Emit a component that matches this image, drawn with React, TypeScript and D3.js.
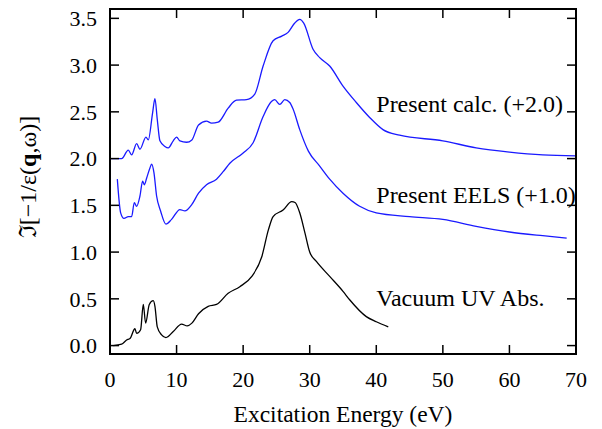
import * as d3 from 'd3';

// energies (eV) and loss function values
const vuvEnergy = [0.5, 1.75, 2.5, 3.0, 3.75, 4.0, 4.6, 5.0, 5.35, 5.9, 6.5, 6.75, 7.1, 7.75, 8.4, 9.5, 10.75, 11.6, 12.3, 13.3, 14.75, 16.0, 17.75, 19.5, 21.3, 22.8, 23.8, 24.5, 26.0, 27.3, 27.8, 28.5, 29.3, 30.0, 31.0, 33.0, 35.0, 36.0, 38.5, 40.0, 41.8];
const vuvValue = [0.0, 0.015, 0.06, 0.075, 0.18, 0.13, 0.17, 0.44, 0.24, 0.44, 0.48, 0.42, 0.2, 0.115, 0.086, 0.15, 0.23, 0.21, 0.24, 0.34, 0.42, 0.44, 0.56, 0.63, 0.74, 0.95, 1.24, 1.38, 1.45, 1.54, 1.53, 1.42, 1.2, 1.0, 0.9, 0.74, 0.58, 0.49, 0.31, 0.255, 0.2];

const eelsEnergy = [1.1, 1.6, 2.1, 2.75, 3.25, 3.65, 4.0, 4.5, 4.9, 5.15, 5.5, 6.0, 6.25, 6.6, 7.0, 7.6, 8.4, 9.25, 10.5, 11.25, 12.3, 13.3, 14.5, 16, 17, 18, 20, 21.5, 23, 24.25, 24.75, 25.5, 26.25, 27, 27.5, 28.5, 29.8, 31.5, 33, 35, 37.5, 40, 45, 50, 55, 60, 65, 68.6];
const eelsValue = [0.78, 0.42, 0.36, 0.38, 0.38, 0.53, 0.49, 0.6, 0.76, 0.72, 0.79, 0.9, 0.94, 0.85, 0.6, 0.44, 0.3, 0.35, 0.455, 0.44, 0.51, 0.63, 0.72, 0.78, 0.86, 0.95, 1.06, 1.17, 1.45, 1.61, 1.63, 1.58, 1.63, 1.6, 1.53, 1.31, 1.08, 0.92, 0.78, 0.63, 0.49, 0.42, 0.38, 0.35, 0.275, 0.215, 0.175, 0.15];
const eelsOffset = 1.0;

const calcEnergy = [0, 1.75, 2.75, 3.25, 4.0, 4.5, 5.4, 5.75, 6.4, 6.75, 7.1, 7.5, 8.25, 8.75, 9.5, 10.0, 10.5, 11.5, 12.3, 13.3, 14.5, 15.25, 16.25, 17.75, 19, 20.5, 21.75, 23, 24.5, 25.8, 26.75, 27.75, 28.5, 29.1, 30.5, 31.5, 33, 35, 37, 39, 41, 43.5, 50, 55, 60, 65, 70];
const calcValue = [0, 0, 0.09, 0.04, 0.16, 0.1, 0.23, 0.2, 0.49, 0.64, 0.42, 0.19, 0.13, 0.115, 0.19, 0.23, 0.19, 0.175, 0.2, 0.36, 0.4, 0.38, 0.39, 0.54, 0.625, 0.63, 0.69, 0.99, 1.26, 1.31, 1.35, 1.45, 1.49, 1.45, 1.17, 1.08, 0.99, 0.775, 0.6, 0.44, 0.31, 0.25, 0.19, 0.115, 0.07, 0.04, 0.03];
const calcOffset = 2.0;

const xTicks = [0, 10, 20, 30, 40, 50, 60, 70];
const yTicks = [0, 0.5, 1.0, 1.5, 2.0, 2.5, 3.0, 3.5];

const labels = [
  { text: 'Present calc. (+2.0)', x: 40, y: 2.5 },
  { text: 'Present EELS (+1.0)', x: 40, y: 1.52 },
  { text: 'Vacuum UV Abs.', x: 40, y: 0.42 },
];

const width = 602;
const height = 429;
const margin = { top: 9, right: 26, bottom: 75, left: 110 };
const font = "'Liberation Serif', serif";

const App = () => {
  const x = d3.scaleLinear([0, 70], [margin.left, width - margin.right]);
  const y = d3.scaleLinear([-0.09, 3.6], [height - margin.bottom, margin.top]);

  const line = d3
    .line<[number, number]>()
    .x((d) => x(d[0]))
    .y((d) => y(d[1]))
    .curve(d3.curveMonotoneX);

  const series = [
    { pts: vuvEnergy.map((e, i) => [e, vuvValue[i]] as [number, number]), color: '#000' },
    { pts: eelsEnergy.map((e, i) => [e, eelsValue[i] + eelsOffset] as [number, number]), color: '#1a1aff' },
    { pts: calcEnergy.map((e, i) => [e, calcValue[i] + calcOffset] as [number, number]), color: '#1a1aff' },
  ];

  const [x0, x1] = x.range();
  const [y0, y1] = y.range();
  const tick = 9;

  return (
    <svg width={width} height={height} style={{ position: 'absolute', left: 0, top: 0, background: '#fff', fontFamily: font }}>
      {series.map((s, i) => (
        <path key={i} d={line(s.pts) ?? ''} fill="none" stroke={s.color} strokeWidth={1.3} />
      ))}

      {/* ticks on all four sides, pointing inward */}
      {xTicks.map((t) => (
        <g key={'x' + t}>
          <line x1={x(t)} x2={x(t)} y1={y0} y2={y0 - tick} stroke="#000" strokeWidth={1.5} />
          <line x1={x(t)} x2={x(t)} y1={y1} y2={y1 + tick} stroke="#000" strokeWidth={1.5} />
          <text x={x(t)} y={y0 + 33} textAnchor="middle" fontSize={22}>
            {t}
          </text>
        </g>
      ))}
      {yTicks.map((t) => (
        <g key={'y' + t}>
          <line x1={x0} x2={x0 + tick} y1={y(t)} y2={y(t)} stroke="#000" strokeWidth={1.5} />
          <line x1={x1} x2={x1 - tick} y1={y(t)} y2={y(t)} stroke="#000" strokeWidth={1.5} />
          <text x={x0 - 13} y={y(t)} dy="0.35em" textAnchor="end" fontSize={22}>
            {t.toFixed(1)}
          </text>
        </g>
      ))}

      <rect x={x0} y={y1} width={x1 - x0} height={y0 - y1} fill="none" stroke="#000" strokeWidth={2} />

      {labels.map((l) => (
        <text key={l.text} x={x(l.x)} y={y(l.y)} fontSize={24}>
          {l.text}
        </text>
      ))}

      <text x={(x0 + x1) / 2} y={422} textAnchor="middle" fontSize={23.5}>
        Excitation Energy (eV)
      </text>
      <text transform="translate(28,177) rotate(-90)" textAnchor="middle" dy="0.35em" fontSize={24}>
        ℑ[−1/ε(<tspan fontWeight="bold">q</tspan>,ω)]
      </text>
    </svg>
  );
};

export default App;
